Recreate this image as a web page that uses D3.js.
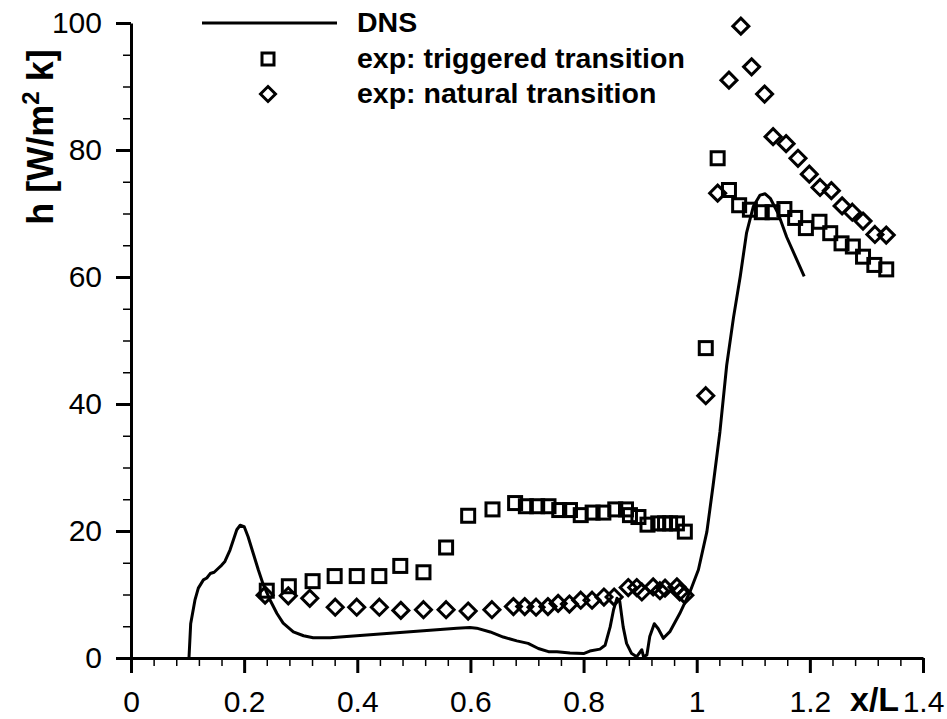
<!DOCTYPE html>
<html>
<head>
<meta charset="utf-8">
<script src="https://cdn.jsdelivr.net/npm/d3@7"></script>
<style>
  html, body { margin: 0; padding: 0; background: #fff; }
  svg { display: block; font-family: "Liberation Sans", Arial, Helvetica, sans-serif; }
</style>
</head>
<body>
<div id="chart"></div>
<script>
// DNS curve (x/L, h)
const dnsX = [0.1025, 0.1055, 0.113, 0.119, 0.128, 0.134, 0.140, 0.147, 0.154, 0.160, 0.166, 0.175, 0.187, 0.193, 0.200, 0.207, 0.216, 0.225, 0.234, 0.246, 0.258, 0.269, 0.287, 0.305, 0.322, 0.352, 0.399, 0.458, 0.517, 0.576, 0.599, 0.611, 0.635, 0.658, 0.682, 0.702, 0.720, 0.738, 0.753, 0.776, 0.800, 0.811, 0.829, 0.838, 0.847, 0.853, 0.859, 0.864, 0.870, 0.876, 0.885, 0.894, 0.903, 0.906, 0.912, 0.917, 0.925, 0.932, 0.941, 0.953, 0.970, 0.988, 1.003, 1.018, 1.029, 1.041, 1.053, 1.065, 1.077, 1.088, 1.100, 1.112, 1.121, 1.130, 1.144, 1.159, 1.177, 1.190];
const dnsH = [0.0, 5.4, 9.1, 11.0, 12.3, 12.6, 13.3, 13.5, 14.1, 14.6, 15.2, 17.0, 20.2, 20.9, 20.7, 19.1, 16.5, 13.9, 11.5, 9.1, 7.0, 5.5, 4.1, 3.5, 3.2, 3.2, 3.5, 3.9, 4.3, 4.7, 4.8, 4.7, 4.1, 3.3, 2.7, 2.3, 1.5, 1.0, 1.0, 0.8, 0.7, 1.1, 1.4, 2.0, 4.9, 7.6, 9.4, 8.9, 4.9, 2.3, 0.7, 0.2, 1.3, 0.2, 0.5, 3.4, 5.4, 4.6, 3.1, 4.2, 7.0, 10.4, 13.9, 19.9, 27.2, 35.6, 46.1, 53.6, 60.1, 66.9, 71.1, 72.9, 73.1, 72.4, 70.0, 66.3, 62.7, 60.1];

// exp: triggered transition
const trigX = [0.240, 0.279, 0.321, 0.360, 0.399, 0.439, 0.476, 0.517, 0.557, 0.596, 0.639, 0.679, 0.698, 0.718, 0.738, 0.757, 0.776, 0.795, 0.816, 0.835, 0.856, 0.875, 0.882, 0.897, 0.913, 0.932, 0.944, 0.953, 0.965, 0.979, 1.016, 1.037, 1.057, 1.075, 1.094, 1.115, 1.134, 1.155, 1.174, 1.193, 1.217, 1.236, 1.256, 1.276, 1.294, 1.314, 1.335];
const trigH = [10.6, 11.3, 12.1, 12.9, 12.9, 12.9, 14.5, 13.5, 17.4, 22.4, 23.4, 24.4, 23.9, 23.9, 23.9, 23.3, 23.3, 22.5, 22.9, 22.9, 23.4, 23.4, 22.5, 22.2, 21.0, 21.2, 21.2, 21.2, 21.2, 19.9, 48.8, 78.7, 73.7, 71.3, 70.6, 70.2, 70.2, 70.7, 69.3, 67.7, 68.7, 66.9, 65.3, 64.8, 63.2, 61.9, 61.2];

// exp: natural transition
const natX = [0.237, 0.278, 0.316, 0.361, 0.399, 0.439, 0.477, 0.517, 0.557, 0.596, 0.638, 0.676, 0.696, 0.716, 0.737, 0.755, 0.775, 0.795, 0.815, 0.836, 0.854, 0.879, 0.894, 0.903, 0.923, 0.935, 0.944, 0.965, 0.970, 0.979, 1.016, 1.037, 1.057, 1.078, 1.097, 1.120, 1.135, 1.158, 1.179, 1.199, 1.218, 1.238, 1.257, 1.275, 1.294, 1.315, 1.335];
const natH = [9.9, 9.8, 9.4, 8.0, 8.0, 8.0, 7.5, 7.6, 7.6, 7.4, 7.6, 8.1, 8.1, 8.0, 8.1, 8.6, 8.5, 9.1, 9.1, 9.6, 9.6, 11.1, 11.1, 10.4, 11.2, 10.6, 11.0, 11.2, 10.4, 9.9, 41.3, 73.2, 91.0, 99.5, 93.1, 88.8, 82.1, 81.0, 78.7, 76.2, 74.1, 73.6, 71.2, 70.2, 68.8, 66.7, 66.6];

const xMajor = [0, 0.2, 0.4, 0.6, 0.8, 1, 1.2, 1.4];
const yMajor = [0, 20, 40, 60, 80, 100];
const legendLabels = ['DNS', 'exp: triggered transition', 'exp: natural transition'];

const width = 947;
const height = 719;
const margin = {top: 23, right: 24, bottom: 61, left: 131};

const svg = d3.select('#chart').append('svg')
  .attr('width', width)
  .attr('height', height);

const xScale = d3.scaleLinear()
  .domain([0, 1.4])
  .range([margin.left, width - margin.right]);

const yScale = d3.scaleLinear()
  .domain([0, 100])
  .range([height - margin.bottom, margin.top]);

const xMinor = d3.range(0, 1.4001, 0.04).map(d => +d.toFixed(2));
const yMinor = d3.range(0, 100.001, 5);

// minor ticks
svg.append('g')
  .attr('transform', `translate(0, ${yScale(0)})`)
  .call(d3.axisBottom(xScale).tickValues(xMinor).tickSize(8).tickFormat(''))
  .call(g => g.select('.domain').remove())
  .selectAll('line').attr('stroke-width', 1.5);

svg.append('g')
  .attr('transform', `translate(${xScale(0)}, 0)`)
  .call(d3.axisLeft(yScale).tickValues(yMinor).tickSize(8).tickFormat(''))
  .call(g => g.select('.domain').remove())
  .selectAll('line').attr('stroke-width', 1.5);

// major axes
let xAxisG = svg.append('g')
  .attr('transform', `translate(0, ${yScale(0)})`)
  .call(d3.axisBottom(xScale).tickValues(xMajor).tickSize(15).tickSizeOuter(0).tickPadding(18).tickFormat(d3.format('')));
xAxisG.select('.domain').attr('stroke-width', 3);
xAxisG.selectAll('line').attr('stroke-width', 3);
xAxisG.selectAll('text')
  .attr('fill', '#000')
  .style('font-size', '30px');

let yAxisG = svg.append('g')
  .attr('transform', `translate(${xScale(0)}, 0)`)
  .call(d3.axisLeft(yScale).tickValues(yMajor).tickSize(15).tickSizeOuter(0).tickPadding(14));
yAxisG.select('.domain').attr('stroke-width', 3);
yAxisG.selectAll('line').attr('stroke-width', 3);
yAxisG.selectAll('text')
  .attr('fill', '#000')
  .style('font-size', '30px');

// axis titles
svg.append('text')
  .attr('x', 850)
  .attr('y', 711)
  .style('font-size', '34px')
  .style('font-weight', 'bold')
  .text('x/L');

let yTitle = svg.append('text')
  .attr('transform', 'translate(53, 137) rotate(-90)')
  .attr('text-anchor', 'middle')
  .style('font-size', '36px')
  .style('font-weight', 'bold');
yTitle.append('tspan').text('h [W/m');
yTitle.append('tspan').attr('dy', -14).style('font-size', '24px').text('2');
yTitle.append('tspan').attr('dy', 14).text(' k]');

// DNS line
const dns = dnsX.map((x, i) => [x, dnsH[i]]);
const line = d3.line()
  .x(d => xScale(d[0]))
  .y(d => yScale(d[1]));

svg.append('path')
  .datum(dns)
  .attr('d', line)
  .attr('fill', 'none')
  .attr('stroke', '#000')
  .attr('stroke-width', 3)
  .attr('stroke-linejoin', 'round');

// markers
const sq = 13;
const dm = 8;
const diamond = (cx, cy) => `M${cx},${cy - dm}L${cx + dm},${cy}L${cx},${cy + dm}L${cx - dm},${cy}Z`;

svg.append('g').selectAll('rect')
  .data(trigX.map((x, i) => [x, trigH[i]]))
  .enter().append('rect')
  .attr('x', d => xScale(d[0]) - sq / 2)
  .attr('y', d => yScale(d[1]) - sq / 2)
  .attr('width', sq)
  .attr('height', sq)
  .attr('fill', 'none')
  .attr('stroke', '#000')
  .attr('stroke-width', 3);

svg.append('g').selectAll('path')
  .data(natX.map((x, i) => [x, natH[i]]))
  .enter().append('path')
  .attr('d', d => diamond(xScale(d[0]), yScale(d[1])))
  .attr('fill', 'none')
  .attr('stroke', '#000')
  .attr('stroke-width', 3);

// legend
const legendX = 357;
const legendY = [23, 59, 94];
let legend = svg.append('g').attr('class', 'legend');

legend.append('line')
  .attr('x1', 202)
  .attr('x2', 337)
  .attr('y1', legendY[0])
  .attr('y2', legendY[0])
  .attr('stroke', '#000')
  .attr('stroke-width', 3);

legend.append('rect')
  .attr('x', 268 - 6)
  .attr('y', legendY[1] - 6)
  .attr('width', 12)
  .attr('height', 12)
  .attr('fill', 'none')
  .attr('stroke', '#000')
  .attr('stroke-width', 3);

legend.append('path')
  .attr('d', `M268,${legendY[2] - 7.5}L275.5,${legendY[2]}L268,${legendY[2] + 7.5}L260.5,${legendY[2]}Z`)
  .attr('fill', 'none')
  .attr('stroke', '#000')
  .attr('stroke-width', 3);

legend.selectAll('text')
  .data(legendLabels)
  .enter().append('text')
  .attr('x', legendX)
  .attr('y', (d, i) => legendY[i] + 9)
  .style('font-size', '28.5px')
  .style('font-weight', 'bold')
  .text(d => d);
</script>
</body>
</html>
